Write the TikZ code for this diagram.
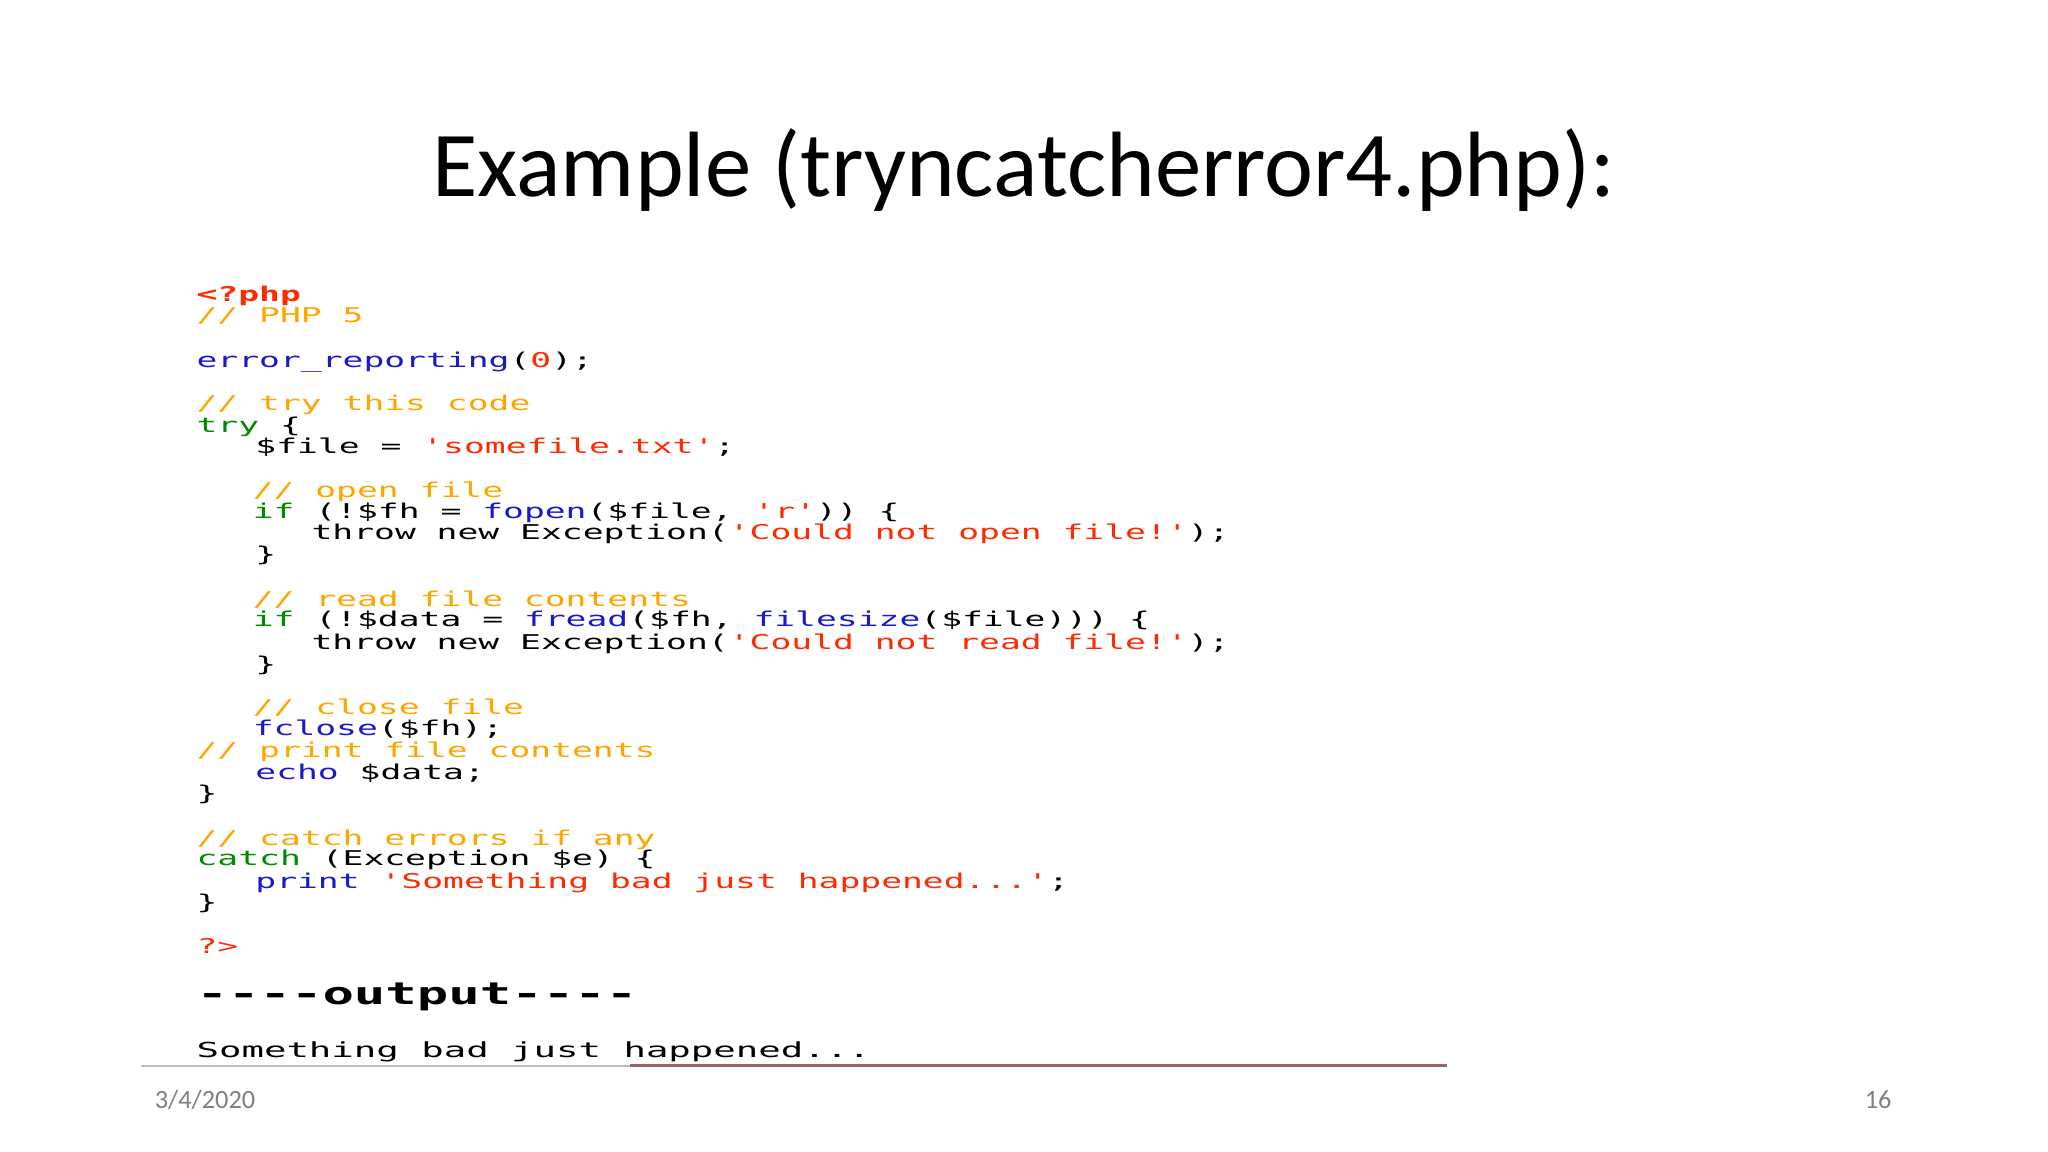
\documentclass[tikz,border=0pt]{standalone}
\usepackage{fontspec}
\setmainfont{Carlito}
\newfontfamily\codefont[FakeStretch=1.70]{DejaVu Sans Mono}
\newfontfamily\codefontw[FakeStretch=1.80]{DejaVu Sans Mono}
\definecolor{cred}{HTML}{FF2A00}
\definecolor{corg}{HTML}{FFA500}
\definecolor{cblu}{HTML}{1A1AC8}
\definecolor{cgrn}{HTML}{008A00}
\newcommand{\q}{{\char39}}
\newcommand{\md}{{\char45}}
\newcommand{\R}[1]{\textcolor{cred}{#1}}
\newcommand{\Or}[1]{\textcolor{corg}{#1}}
\newcommand{\B}[1]{\textcolor{cblu}{#1}}
\newcommand{\G}[1]{\textcolor{cgrn}{#1}}
\tikzset{code/.style={anchor=base west,inner sep=0pt,font=\codefont\fontsize{5.8}{5.8}\selectfont}}
\begin{document}
\begin{tikzpicture}[x=0.013061cm,y=-0.013061cm]
\useasboundingbox (0,0) rectangle (1568,882);
\node[font=\fontsize{26.4}{26.4}\selectfont] (title) at (784,130) {Example (tryncatcherror4.php):};
\node[code] (l1) at (150,231) {\R{\textbf{<?php}}};
\node[code] (l2) at (150,247) {\Or{// PHP 5}};
\node[code] (l3) at (150,281) {\B{error\_reporting}(\R{0});};
\node[code] (l4) at (150,314) {\Or{// try this code}};
\node[code] (l5) at (150,331) {\G{try} \{};
\node[code] (l6) at (195,347) {\$file = \R{\q somefile.txt\q};};
\node[code] (l7) at (193,381) {\Or{// open file}};
\node[code] (l8) at (193,397) {\G{if} (!\$fh = \B{fopen}(\$file, \R{\q r\q})) \{};
\node[code] (l9) at (238,413) {throw new Exception(\R{\q Could not open file!\q});};
\node[code] (l10) at (195,430) {\}};
\node[code] (l11) at (193,464) {\Or{// read file contents}};
\node[code] (l12) at (193,480) {\G{if} (!\$data = \B{fread}(\$fh, \B{filesize}(\$file))) \{};
\node[code] (l13) at (238,497) {throw new Exception(\R{\q Could not read file!\q});};
\node[code] (l14) at (195,514) {\}};
\node[code] (l15) at (193,547) {\Or{// close file}};
\node[code] (l16) at (193,563) {\B{fclose}(\$fh);};
\node[code] (l17) at (150,580) {\Or{// print file contents}};
\node[code] (l18) at (195,597) {\B{echo} \$data;};
\node[code] (l19) at (150,613) {\}};
\node[code] (l20) at (150,647) {\Or{// catch errors if any}};
\node[code] (l21) at (150,663) {\G{catch} (Exception \$e) \{};
\node[code] (l22) at (195,680) {\B{print} \R{\q Something bad just happened...\q};};
\node[code] (l23) at (150,696) {\}};
\node[code] (l24) at (150,730) {\R{?>}};
\node[code,font=\codefont\fontsize{8.75}{8.75}\selectfont\bfseries] (out) at (150,769) {\md\md\md\md output\md\md\md\md};
\node[code,font=\codefontw\fontsize{5.9}{5.9}\selectfont] (res) at (150,810) {Something bad just happened...};
\coordinate (a) at (108,816); \coordinate (b) at (1108,816); \coordinate (c) at (482,816);
\draw[gray!50,line width=0.4pt] (a) -- (b);
\draw[black!70!red!60,line width=0.8pt] (c) -- (b);
\node[text=gray,font=\fontsize{7.5}{7.5}\selectfont] (date) at (157,842) {3/4/2020};
\node[text=gray,font=\fontsize{7.5}{7.5}\selectfont] (pg) at (1438,842) {16};
\end{tikzpicture}
\end{document}
